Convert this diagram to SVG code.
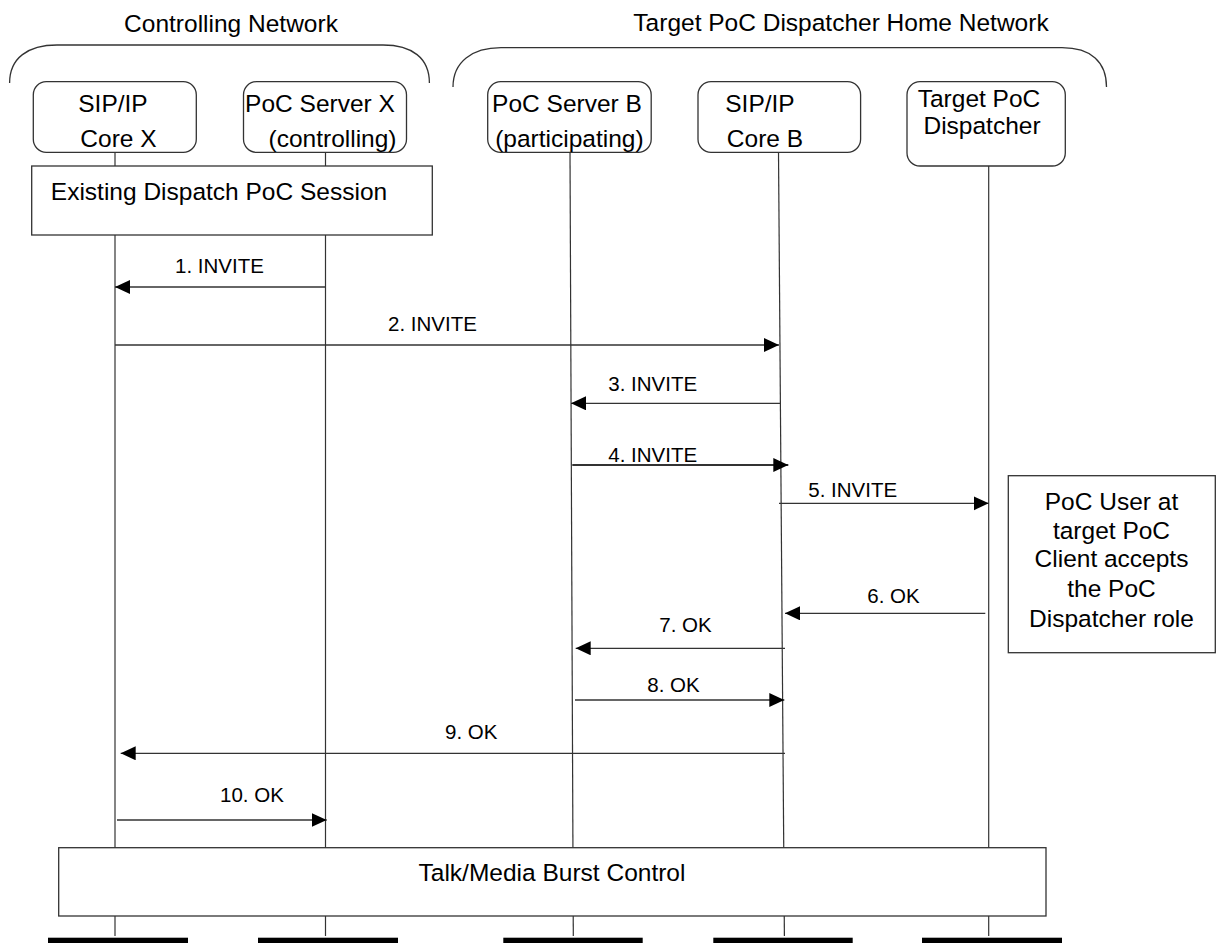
<svg xmlns="http://www.w3.org/2000/svg" width="1219" height="943" viewBox="0 0 1219 943">
  <style>
    .t { font-family: "Liberation Sans", Arial, sans-serif; font-size: 24.5px; fill: #000; }
    .c { text-anchor: middle; }
    .lbl { font-family: "Liberation Sans", Arial, sans-serif; font-size: 20.5px; fill: #000; }
    .box { fill: #fff; stroke: #333; stroke-width: 1.3; }
    .life { stroke: #333; stroke-width: 1.2; fill: none; }
    .arc { fill: none; stroke: #333; stroke-width: 1.3; }
    .msg { stroke: #333; stroke-width: 1.3; fill: none; marker-end: url(#ah); }
    .bar { fill: #000; }
  </style>
  <defs>
    <marker id="ah" markerUnits="userSpaceOnUse" markerWidth="16" markerHeight="15" refX="15" refY="7" orient="auto">
      <path d="M0,0 L15,7 L0,14 Z" fill="#000"/>
    </marker>
  </defs>
  <rect width="1219" height="943" fill="#fff"/>

  <!-- network brackets -->
  <g id="controlling-network">
    <text class="t c" x="231" y="32">Controlling Network</text>
    <path class="arc" d="M9.6,83 C9.6,58 28,45 57,45 L383,45 C412,45 429.4,58 429.4,83"/>
  </g>
  <g id="target-home-network">
    <text class="t c" x="841" y="31">Target PoC Dispatcher Home Network</text>
    <path class="arc" d="M453,87 C453,62 472,47.7 501,47.7 L1062,47.7 C1091,47.7 1106.5,62 1106.5,87"/>
  </g>

  <!-- lifelines and participants -->
  <g id="sip-ip-core-x">
    <line class="life" x1="115" y1="152" x2="115" y2="936"/>
    <rect class="box" x="33.3" y="81.7" width="163" height="70.6" rx="13"/>
    <text class="t c" x="113" y="112">SIP/IP</text>
    <text class="t c" x="118.5" y="147">Core X</text>
  </g>
  <g id="poc-server-x">
    <line class="life" x1="325.5" y1="152" x2="325.5" y2="936"/>
    <rect class="box" x="243.5" y="81.7" width="163" height="70.6" rx="13"/>
    <text class="t c" x="320" y="112">PoC Server X</text>
    <text class="t c" x="332.5" y="147">(controlling)</text>
  </g>
  <g id="poc-server-b">
    <line class="life" x1="570" y1="152" x2="573.3" y2="936"/>
    <rect class="box" x="487.7" y="81.7" width="163.5" height="70.6" rx="13"/>
    <text class="t c" x="567" y="112">PoC Server B</text>
    <text class="t c" x="569.4" y="147">(participating)</text>
  </g>
  <g id="sip-ip-core-b">
    <line class="life" x1="778.5" y1="152" x2="784.4" y2="936"/>
    <rect class="box" x="698" y="81.7" width="162.6" height="70.6" rx="13"/>
    <text class="t c" x="760" y="112">SIP/IP</text>
    <text class="t c" x="765" y="147">Core B</text>
  </g>
  <g id="target-poc-dispatcher">
    <line class="life" x1="988.7" y1="166" x2="988.7" y2="936"/>
    <rect class="box" x="907" y="81.7" width="158.3" height="84.3" rx="13"/>
    <text class="t c" x="979" y="106.5">Target PoC</text>
    <text class="t c" x="982" y="134">Dispatcher</text>
  </g>

  <!-- existing session -->
  <g id="existing-session">
    <rect class="box" x="31.7" y="166" width="400.6" height="69"/>
    <text class="t c" x="219" y="200">Existing Dispatch PoC Session</text>
  </g>

  <!-- note -->
  <g id="poc-user-note">
    <rect class="box" x="1008.3" y="475.7" width="207" height="177"/>
    <text class="t c" x="1111.5" y="510">PoC User at</text>
    <text class="t c" x="1111.5" y="539">target PoC</text>
    <text class="t c" x="1111.5" y="567.3">Client accepts</text>
    <text class="t c" x="1111.5" y="597.3">the PoC</text>
    <text class="t c" x="1111.5" y="626.7">Dispatcher role</text>
  </g>

  <!-- connectors -->
  <g id="connectors">
    <line class="msg" x1="325" y1="287" x2="115" y2="287"/>
    <text class="lbl" x="175" y="273.3">1. INVITE</text>

    <line class="msg" x1="115" y1="345" x2="779" y2="345"/>
    <text class="lbl" x="388" y="331">2. INVITE</text>

    <line class="msg" x1="780" y1="403.3" x2="571" y2="403.3"/>
    <text class="lbl" x="608.3" y="390.7">3. INVITE</text>

    <line class="msg" x1="572.3" y1="465" x2="788.3" y2="465" style="stroke-width:2.2"/>
    <text class="lbl" x="608.3" y="461.7">4. INVITE</text>

    <line class="msg" x1="779" y1="503.3" x2="988.7" y2="503.3"/>
    <text class="lbl" x="808.3" y="496.7">5. INVITE</text>

    <line class="msg" x1="985.3" y1="613.3" x2="785" y2="613.3"/>
    <text class="lbl" x="867.3" y="602.7">6. OK</text>

    <line class="msg" x1="785" y1="648.3" x2="575.7" y2="648.3"/>
    <text class="lbl" x="659.3" y="632.3">7. OK</text>

    <line class="msg" x1="575" y1="700" x2="784.3" y2="700"/>
    <text class="lbl" x="647.3" y="691.7">8. OK</text>

    <line class="msg" x1="785" y1="753.3" x2="120.7" y2="753.3"/>
    <text class="lbl" x="445" y="739">9. OK</text>

    <line class="msg" x1="117" y1="820" x2="326.7" y2="820"/>
    <text class="lbl" x="220" y="801.7">10. OK</text>
  </g>

  <!-- talk burst control -->
  <g id="talk-burst-control">
    <rect class="box" x="58.7" y="847.7" width="987.3" height="68.3"/>
    <text class="t c" x="552" y="881">Talk/Media Burst Control</text>
  </g>

  <!-- lifeline ends -->
  <g id="lifeline-ends">
    <rect class="bar" x="48" y="937.7" width="140" height="6"/>
    <rect class="bar" x="258" y="937.7" width="140" height="6"/>
    <rect class="bar" x="503.3" y="937.7" width="139.4" height="6"/>
    <rect class="bar" x="713.3" y="937.7" width="139.4" height="6"/>
    <rect class="bar" x="922" y="937.7" width="140" height="6"/>
  </g>
</svg>
